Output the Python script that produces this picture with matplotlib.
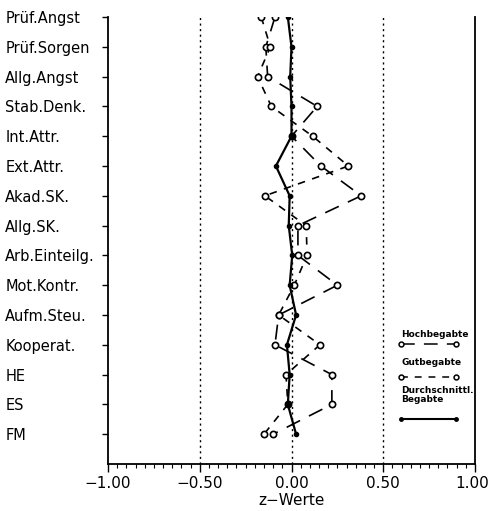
import matplotlib
matplotlib.use('Agg')
import matplotlib.pyplot as plt
from matplotlib.ticker import MultipleLocator, FuncFormatter
from matplotlib.transforms import ScaledTranslation

# Skalen (von oben nach unten)
skalen = ["Prüf.Angst", "Prüf.Sorgen", "Allg.Angst", "Stab.Denk.", "Int.Attr.",
          "Ext.Attr.", "Akad.SK.", "Allg.SK.", "Arb.Einteilg.", "Mot.Kontr.",
          "Aufm.Steu.", "Kooperat.", "HE", "ES", "FM"]

# z-Werte je Gruppe
hochbegabte = [-0.09, -0.14, -0.13, 0.14, 0.00, 0.16, 0.38, 0.035, 0.035, 0.25,
               -0.07, -0.09, 0.22, 0.22, -0.10]
gutbegabte = [-0.165, -0.115, -0.185, -0.11, 0.115, 0.31, -0.145, 0.08, 0.085, 0.015,
              -0.07, 0.155, -0.03, -0.02, -0.15]
durchschnitt = [-0.02, 0.00, -0.007, 0.00, 0.00, -0.085, -0.01, -0.015, 0.004, -0.01,
                0.025, -0.025, -0.01, -0.02, 0.025]
x_ticks = [-1.0, -0.5, 0.0, 0.5, 1.0]

fig = plt.figure(figsize=(4.9, 5.11), dpi=100)
ax = fig.add_axes([108 / 490, 1 - 464 / 511, 367 / 490, 447 / 511])
pos = list(range(len(skalen)))

# Hilfslinien
for xv in (-0.5, 0.0, 0.5):
    ax.axvline(xv, color='black', lw=1.0, linestyle=(0, (1.5, 2.5)), zorder=1)

ax.plot(hochbegabte, pos, color='black', lw=1.2, linestyle=(0, (9, 6)),
        marker='o', mfc='white', mec='black', ms=4.5, mew=1.2, zorder=3)
ax.plot(gutbegabte, pos, color='black', lw=1.2, linestyle=(0, (4.5, 4.5)),
        marker='o', mfc='white', mec='black', ms=4.5, mew=1.2, zorder=3)
ax.plot(durchschnitt, pos, color='black', lw=1.6, linestyle='-',
        marker='o', mfc='black', mec='black', ms=3, zorder=4)

ax.set_xlim(-1, 1)
ax.set_ylim(15, 0)
ax.set_yticks(pos)
ax.set_yticklabels(skalen, ha='left', fontsize=10.5)
ax.tick_params(axis='y', direction='out', length=4, width=1, pad=70)

ax.set_xticks(x_ticks)
ax.xaxis.set_minor_locator(MultipleLocator(0.05))
ax.xaxis.set_major_formatter(FuncFormatter(lambda v, p: f"{v:.2f}".replace('-', '\u2212')))
ax.tick_params(axis='x', which='major', direction='out', length=6, width=1, pad=3, labelsize=11)
ax.tick_params(axis='x', which='minor', direction='out', length=3, width=0.8)
ax.set_xlabel("z\u2212Werte", fontsize=11, labelpad=1)

# letzte Beschriftung etwas nach links, damit sie im Bild bleibt
last = ax.xaxis.get_major_ticks()[-1].label1
last.set_transform(last.get_transform() + ScaledTranslation(-0.03, 0, fig.dpi_scale_trans))

ax.spines['top'].set_visible(False)
for s in ('left', 'right', 'bottom'):
    ax.spines[s].set_linewidth(1.3)

# Legende
lx = [0.598, 0.897]
ax.text(0.598, 10.67, "Hochbegabte", fontsize=6.5, fontweight='bold', va='center')
ax.plot(lx, [10.97, 10.97], color='black', lw=1.1, linestyle=(0, (9, 6)),
        marker='o', mfc='white', mec='black', ms=3.5, mew=1.1)
ax.text(0.598, 11.61, "Gutbegabte", fontsize=6.5, fontweight='bold', va='center')
ax.plot(lx, [12.08, 12.08], color='black', lw=1.1, linestyle=(0, (4.5, 4.5)),
        marker='o', mfc='white', mec='black', ms=3.5, mew=1.1)
ax.text(0.598, 12.52, "Durchschnittl.", fontsize=6.5, fontweight='bold', va='center')
ax.text(0.598, 12.82, "Begabte", fontsize=6.5, fontweight='bold', va='center')
ax.plot(lx, [13.49, 13.49], color='black', lw=1.5, marker='o', mfc='black', ms=2.5)

fig.savefig("out.png", dpi=100)
